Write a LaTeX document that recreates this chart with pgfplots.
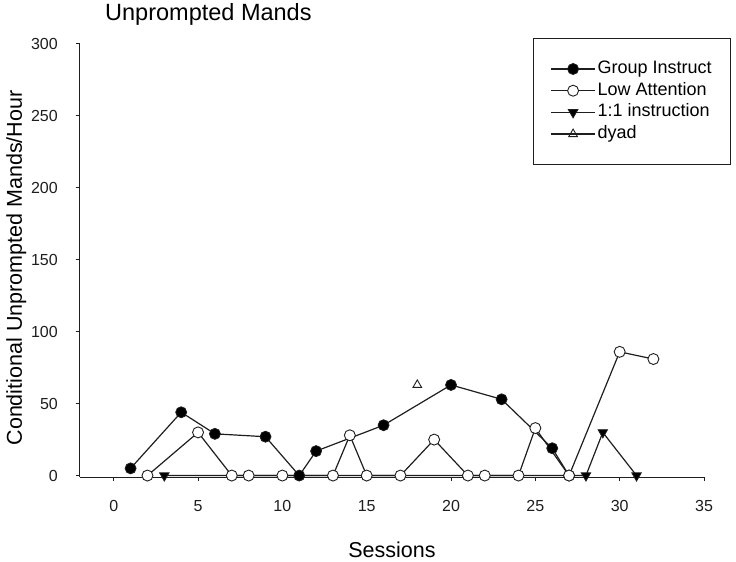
\documentclass[border=0pt]{standalone}
\usepackage{fontspec}
\setmainfont{Liberation Sans}
\usepackage{pgfplots}
\pgfplotsset{compat=1.18}

\definecolor{ink}{HTML}{1E1E1E}

\begin{document}
\begin{tikzpicture}
\begin{axis}[
  scale only axis,
  width=624pt, height=433pt,
  xmin=-2, xmax=35,
  ymin=-1, ymax=300,
  axis x line=bottom, axis y line=left,
  axis line style={-, ink, line width=1pt},
  xtick={0,5,...,35},
  ytick={0,50,...,300},
  tick align=outside,
  major tick length=4pt,
  tick style={ink, line width=1pt},
  /pgf/number format/assume math mode=true,
  tick label style={font=\fontsize{16}{19}\selectfont, text=ink},
  xticklabel style={anchor=north, inner sep=0pt, yshift=-19pt},
  yticklabel style={anchor=east, inner sep=0pt, xshift=-18pt},
  title={Unprompted Mands},
  title style={font=\fontsize{23.5}{27}\selectfont, anchor=base west,
    at={(25pt,450pt)}, inner sep=0pt},
  xlabel={Sessions},
  xlabel style={font=\fontsize{21.5}{25}\selectfont, anchor=base,
    at={(312pt,-80pt)}, inner sep=0pt},
  ylabel={Conditional Unprompted Mands/Hour},
  ylabel style={font=\fontsize{21.5}{25}\selectfont, anchor=base,
    at={(-58pt,209pt)}, inner sep=0pt},
  clip=false,
  legend cell align=left,
  legend image code/.code={
    \draw[#1, mark repeat=2, mark phase=2]
      plot coordinates {(0pt,0pt) (22pt,0pt) (44pt,0pt)};
  },
  legend style={
    at={(453pt,439pt)}, anchor=north west,
    draw=ink, line width=1pt, fill=white,
    inner xsep=17pt, inner ysep=20pt,
    font=\fontsize{18}{21}\selectfont,
    row sep=0.7pt,
    nodes={text height=13pt, text depth=4pt, inner sep=2pt},
  },
]

% 1:1 instruction, drawn first so the open circles sit on top of it
\addplot[ink, line width=1.2pt, mark=triangle*, mark size=5.5pt,
  mark options={rotate=180, fill=black, line width=0.8pt}, forget plot]
  coordinates {(3,0) (28,0) (29,30) (31,0)};

% Group Instruct
\addplot[ink, line width=1.2pt, mark=*, mark size=5.5pt,
  mark options={fill=black, line width=0.8pt}]
  coordinates {(1,5) (4,44) (6,29) (9,27) (11,0) (12,17) (16,35)
               (20,63) (23,53) (26,19) (27,0)};
\addlegendentry{Group Instruct}

% Low Attention
\addplot[ink, line width=1.2pt, mark=*, mark size=5.5pt,
  mark options={fill=white, line width=0.9pt}]
  coordinates {(2,0) (5,30) (7,0) (8,0) (10,0) (13,0) (14,28) (15,0)
               (17,0) (19,25) (21,0) (22,0) (24,0) (25,33) (27,0)
               (30,86) (32,81)};
\addlegendentry{Low Attention}

\addlegendimage{ink, line width=1.2pt, mark=triangle*, mark size=5.5pt,
  mark options={rotate=180, fill=black, line width=0.8pt}}
\addlegendentry{1:1 instruction}

% dyad
\addplot[ink, line width=1.2pt, mark=triangle, mark size=5pt,
  mark options={fill=white, line width=0.9pt}]
  coordinates {(18,63)};
\addlegendentry{dyad}

\end{axis}
% page extent around the axis origin
\path (-80pt,-85pt) rectangle (656pt,477pt);
\end{tikzpicture}
\end{document}
